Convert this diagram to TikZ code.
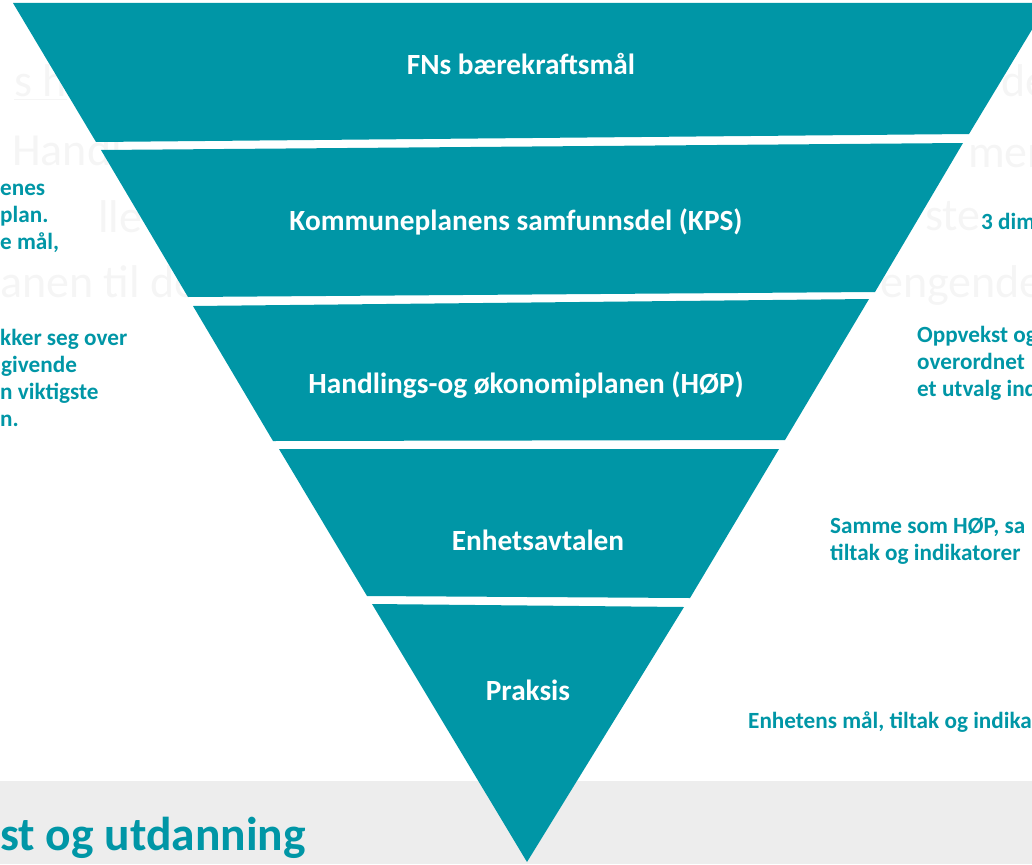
\documentclass[tikz,border=0pt]{standalone}
\usepackage{fontspec}
\setmainfont{Carlito}

\definecolor{planteal}{RGB}{0,150,166}
\definecolor{footgrey}{RGB}{237,237,237}
\definecolor{ghostgrey}{RGB}{245,245,245}

\begin{document}
\begin{tikzpicture}[x=1pt, y=-1pt,
  level/.style={fill=planteal},
  levellabel/.style={anchor=base, text=white, inner sep=0pt,
    font=\bfseries\fontsize{29.3}{34}\selectfont},
  sidenote/.style={anchor=base west, text=planteal, inner sep=0pt,
    font=\bfseries\fontsize{23.2}{27}\selectfont},
  ghost/.style={anchor=base west, text=ghostgrey, inner sep=0pt,
    font=\fontsize{46}{50}\selectfont}]

\useasboundingbox (0,0) rectangle (1032,864);
\clip (0,0) rectangle (1032,864);

% grey footer
\fill [footgrey] (0,781) rectangle (1032,864);
\node [anchor=base west, text=planteal, inner sep=0pt,
  font=\bfseries\fontsize{47.5}{52}\selectfont] (footer) at (0,850) {st og utdanning};

% faint slide text behind the triangle
\node [ghost] (ghostA) at (14,97)   {\underline{s h}};
\node [ghost] (ghostB) at (1001,97) {de};
\node [ghost] (ghostC) at (12,165)  {Handl};
\node [ghost] (ghostD) at (968,167) {ment};
\node [ghost] (ghostE) at (98,232)  {lle bi};
\node [ghost] (ghostF) at (925,230) {ste};
\node [ghost] (ghostG) at (0,297)   {anen til de};
\node [ghost] (ghostH) at (880,297) {engende p};

% -------- the levels -----------
\fill [level] (13,3) -- (1048,3) -- (969,134) -- (96,142) -- cycle;
\fill [level] (101,150) -- (963,143) -- (875,292) -- (188,297) -- cycle;
\fill [level] (193,306) -- (869,299) -- (785,440) -- (273,441) -- cycle;
\fill [level] (279,449) -- (779,449) -- (690,598) -- (367,596) -- cycle;
\fill [level] (372,604) -- (684,607) -- (527,862) -- cycle;

\node [levellabel] (fn)    at (521,75)  {FNs bærekraftsmål};
\node [levellabel] (kps)   at (516,230) {Kommuneplanens samfunnsdel (KPS)};
\node [levellabel] (hop)   at (526,393) {Handlings-og økonomiplanen (HØP)};
\node [levellabel] (avtal) at (538,550) {Enhetsavtalen};
\node [levellabel] (prax)  at (528,700) {Praksis};

% left notes
\node [sidenote] (leftA1) at (0,195) {enes};
\node [sidenote] (leftA2) at (0,222) {plan.};
\node [sidenote] (leftA3) at (0,249) {e mål,};

\node [sidenote] (leftB1) at (0,345) {kker seg over};
\node [sidenote] (leftB2) at (1,372) {givende};
\node [sidenote] (leftB3) at (0,399) {n viktigste};
\node [sidenote] (leftB4) at (0,426) {n.};

% right notes
\node [sidenote] (rightA1) at (981,229) {3 dim};

\node [sidenote] (rightB1) at (917,342) {Oppvekst og};
\node [sidenote] (rightB2) at (917,369) {overordnet};
\node [sidenote] (rightB3) at (917,396) {et utvalg ind};

\node [sidenote] (rightC1) at (830,533) {Samme som HØP, sa};
\node [sidenote] (rightC2) at (830,560) {tiltak og indikatorer};

\node [sidenote] (rightD1) at (748,728) {Enhetens mål, tiltak og indika};

\end{tikzpicture}
\end{document}
